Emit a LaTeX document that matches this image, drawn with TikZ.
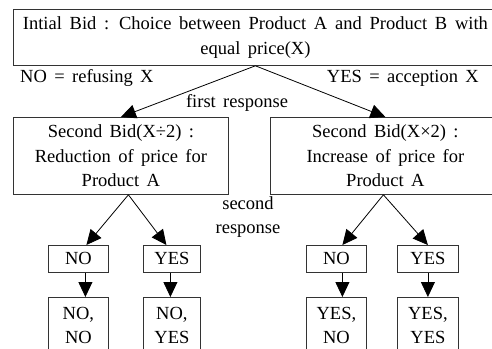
\documentclass[tikz,border=0pt]{standalone}
\usepackage{fontspec}
\setmainfont[WordSpace=1.6]{Liberation Serif}
\usetikzlibrary{arrows.meta}
\begin{document}
\begin{tikzpicture}[x=1pt,y=-1pt,
  box/.style={draw=black!80, line width=0.8pt, inner sep=0pt, align=center, font=\fontsize{18.5}{24.5}\selectfont},
  lbl/.style={inner sep=0pt, font=\fontsize{18.5}{24.5}\selectfont},
  arr/.style={line width=0.8pt, -{Triangle[length=15pt,width=14pt]}}]
\useasboundingbox (0,0) rectangle (492,348);
\clip (0,0) rectangle (492,348);
\node[box, minimum width=484pt, minimum height=56pt, anchor=north west] (top) at (13,9)
  {\makebox[465pt][s]{Intial Bid : Choice between Product A and Product B with}\\equal price(X)};
\node[box, minimum width=215pt, minimum height=77pt, anchor=north west] (lb) at (13,117)
  {Second Bid(X÷2) :\\Reduction of price for\\Product A};
\node[box, minimum width=230pt, minimum height=77pt, anchor=north west] (rb) at (270,117)
  {Second Bid(X×2) :\\Increase of price for\\Product A};
\node[box, minimum width=60pt, minimum height=27pt, anchor=north west] (nl) at (48,245) {NO};
\node[box, minimum width=57pt, minimum height=27pt, anchor=north west] (yl) at (143,245) {YES};
\node[box, minimum width=60pt, minimum height=27pt, anchor=north west] (nr) at (306,245) {NO};
\node[box, minimum width=61pt, minimum height=27pt, anchor=north west] (yr) at (397,245) {YES};
\node[box, minimum width=60pt, minimum height=56pt, anchor=north west] (nnl) at (48,297) {NO,\\NO};
\node[box, minimum width=57pt, minimum height=56pt, anchor=north west] (nyl) at (143,297) {NO,\\YES};
\node[box, minimum width=60pt, minimum height=56pt, anchor=north west] (ynr) at (306,297) {YES,\\NO};
\node[box, minimum width=61pt, minimum height=56pt, anchor=north west] (yyr) at (397,297) {YES,\\YES};
\node[lbl, anchor=west] (nolab) at (20,78) {NO = refusing X};
\node[lbl, anchor=east] (yeslab) at (479,78) {YES = acception X};
\node[lbl] (fr) at (237,103) {first response};
\node[lbl, align=center] (sr) at (248,217) {second\\response};
\draw[arr] (top.south) -- (lb.north);
\draw[arr] (top.south) -- (rb.north);
\draw[arr] ([xshift=7.5pt]lb.south) -- ([xshift=8pt]nl.north);
\draw[arr] ([xshift=7.5pt]lb.south) -- ([xshift=-5.5pt]yl.north);
\draw[arr] ([xshift=-2pt]rb.south) -- ([xshift=6pt]nr.north);
\draw[arr] ([xshift=-2pt]rb.south) -- (yr.north);
\draw[arr] ([xshift=7pt]nl.south) -- ([xshift=7pt]nnl.north);
\draw[arr] ([xshift=-1.5pt]yl.south) -- ([xshift=-1.5pt]nyl.north);
\draw[arr] ([xshift=6pt]nr.south) -- ([xshift=6pt]ynr.north);
\draw[arr] (yr.south) -- (yyr.north);
\end{tikzpicture}
\end{document}
